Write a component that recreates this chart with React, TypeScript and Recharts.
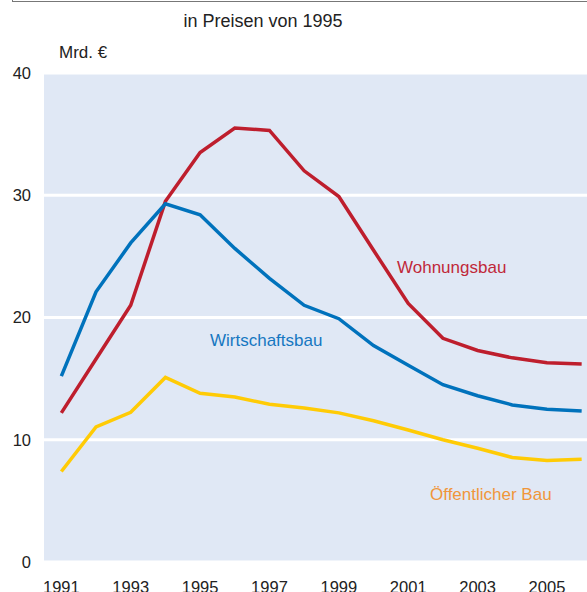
import { LineChart, Line, XAxis, YAxis, CartesianGrid } from 'recharts';

// Bauinvestitionen in Mrd. €, in Preisen von 1995
const years = [1991, 1992, 1993, 1994, 1995, 1996, 1997, 1998, 1999, 2000, 2001, 2002, 2003, 2004, 2005, 2006];
const wohnungsbau = [12.2, 16.6, 21.0, 29.5, 33.5, 35.5, 35.3, 32.0, 29.9, 25.5, 21.15, 18.3, 17.3, 16.7, 16.3, 16.2];
const wirtschaftsbau = [15.2, 22.1, 26.1, 29.3, 28.4, 25.65, 23.2, 21.0, 19.9, 17.7, 16.1, 14.5, 13.6, 12.85, 12.5, 12.35];
const oeffentlicherBau = [7.4, 11.05, 12.25, 15.1, 13.8, 13.5, 12.9, 12.6, 12.2, 11.55, 10.8, 10.0, 9.3, 8.55, 8.3, 8.4];

const yTicks = [0, 10, 20, 30, 40];
const yearLabels = [1991, 1993, 1995, 1997, 1999, 2001, 2003, 2005];
const bandEdges = [1990.5, 1991.5, 1992.5, 1993.5, 1994.5, 1995.5, 1996.5, 1997.5, 1998.5, 1999.5, 2000.5, 2001.5, 2002.5, 2003.5, 2004.5, 2005.5, 2006.5];

const data = years.map((year, i) => ({
    year,
    wohnungsbau: wohnungsbau[i],
    wirtschaftsbau: wirtschaftsbau[i],
    oeffentlicherBau: oeffentlicherBau[i],
}));

const font = '"Liberation Sans", Arial, sans-serif';

const note = (color: string) => ({
    position: 'absolute' as const,
    fontFamily: font,
    fontSize: 17,
    lineHeight: '20px',
    color,
    whiteSpace: 'nowrap' as const,
});

const App = () => {
    return (
        <div style={{ position: 'absolute', left: 0, top: 0, width: 587, height: 592, overflow: 'hidden', background: '#fff' }}>
            {/* frame of the box above */}
            <div style={{ position: 'absolute', left: 12, top: -10, width: 620, height: 11, borderLeft: '1.5px solid #777', borderBottom: '1.5px solid #777' }} />
            <div style={{ position: 'absolute', left: 0, width: 526, top: 10, textAlign: 'center', fontFamily: font, fontSize: 18, lineHeight: '22px', color: '#222' }}>
                in Preisen von 1995
            </div>
            <div style={{ ...note('#222'), left: 59, top: 43 }}>Mrd. €</div>

            <LineChart
                width={600}
                height={592}
                data={data}
                margin={{ top: 73, right: 1, left: 0, bottom: 0 }}
                style={{ position: 'absolute', left: 0, top: 0 }}
            >
                <CartesianGrid vertical={false} stroke="#ffffff" strokeWidth={3} fill="#e0e8f5" fillOpacity={1} />
                <XAxis
                    xAxisId="marks"
                    type="number"
                    dataKey="year"
                    domain={[1990.5, 2006.5]}
                    ticks={bandEdges}
                    interval={0}
                    tickFormatter={() => ''}
                    height={0}
                    tickSize={5}
                    axisLine={{ stroke: '#8cb6df', strokeWidth: 1.5 }}
                    tickLine={{ stroke: '#8cb6df', strokeWidth: 1.5 }}
                />
                <XAxis
                    xAxisId="labels"
                    type="number"
                    dataKey="year"
                    domain={[1990.5, 2006.5]}
                    ticks={yearLabels}
                    interval={0}
                    height={30}
                    axisLine={false}
                    tickLine={false}
                    tickSize={0}
                    tickMargin={19}
                    tick={{ fill: '#222', fontSize: 16.5, fontFamily: font }}
                />
                <YAxis
                    domain={[0, 40]}
                    ticks={yTicks}
                    width={44}
                    axisLine={false}
                    tickLine={false}
                    tickSize={0}
                    tickMargin={13}
                    tick={{ fill: '#222', fontSize: 16.5, fontFamily: font }}
                />
                <Line xAxisId="labels" type="linear" dataKey="oeffentlicherBau" stroke="#ffcb05" strokeWidth={3.5} dot={false} isAnimationActive={false} />
                <Line xAxisId="labels" type="linear" dataKey="wohnungsbau" stroke="#be1e2d" strokeWidth={3.5} dot={false} isAnimationActive={false} />
                <Line xAxisId="labels" type="linear" dataKey="wirtschaftsbau" stroke="#0072bc" strokeWidth={3.5} dot={false} isAnimationActive={false} />
            </LineChart>

            <div style={{ ...note('#c0283a'), left: 397, top: 258 }}>Wohnungsbau</div>
            <div style={{ ...note('#1677c1'), left: 210, top: 331 }}>Wirtschaftsbau</div>
            <div style={{ ...note('#f0963a'), left: 430, top: 485 }}>Öffentlicher Bau</div>
        </div>
    );
};

export default App;
